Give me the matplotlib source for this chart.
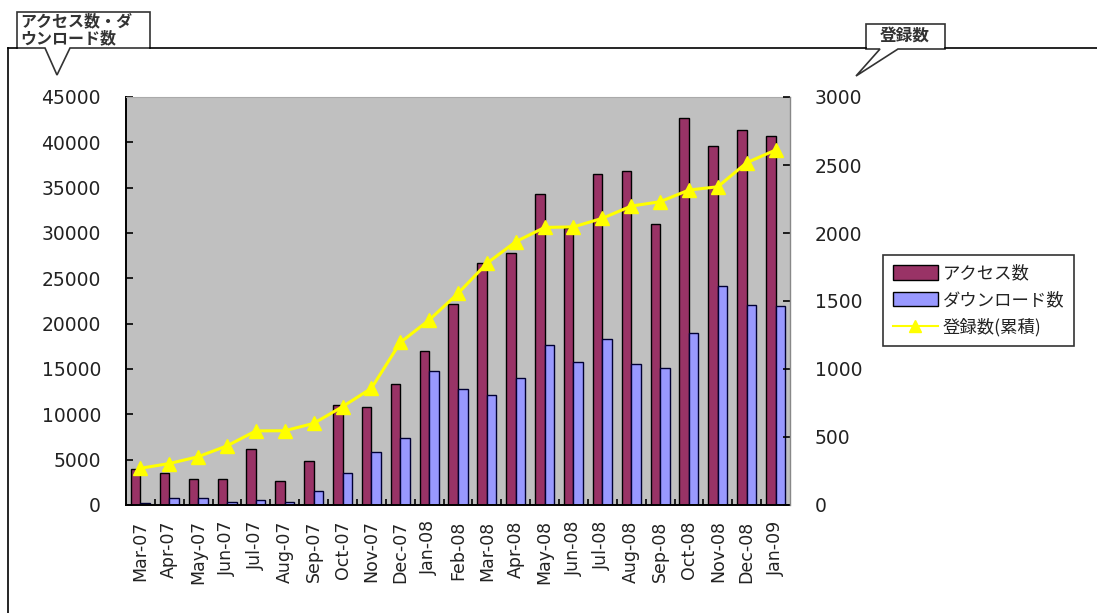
import matplotlib
matplotlib.use('Agg')
import matplotlib.pyplot as plt
from matplotlib.lines import Line2D
from matplotlib.patches import Polygon, Patch
import numpy as np

plt.rcParams['font.family'] = ['Noto Sans CJK JP', 'DejaVu Sans']

months = ['Mar-07', 'Apr-07', 'May-07', 'Jun-07', 'Jul-07', 'Aug-07', 'Sep-07',
          'Oct-07', 'Nov-07', 'Dec-07', 'Jan-08', 'Feb-08', 'Mar-08', 'Apr-08',
          'May-08', 'Jun-08', 'Jul-08', 'Aug-08', 'Sep-08', 'Oct-08', 'Nov-08',
          'Dec-08', 'Jan-09']
access = [4000, 3500, 2900, 2900, 6200, 2650, 4900, 11000, 10800, 13300, 17000,
          22200, 26700, 27800, 34300, 30500, 36500, 36800, 31000, 42700, 39600,
          41400, 40700]
downloads = [200, 800, 800, 300, 600, 300, 1500, 3500, 5800, 7400, 14800,
             12800, 12100, 14000, 17600, 15800, 18300, 15500, 15100, 19000,
             24200, 22100, 21900]
registered = [270, 305, 355, 435, 545, 546, 600, 723, 858, 1195, 1360, 1556,
              1777, 1936, 2041, 2045, 2108, 2198, 2230, 2316, 2340, 2517, 2610]

MAROON = '#993366'
BLUE = '#9999ff'
YELLOW = '#ffff00'
PLOT_BG = '#c0c0c0'
TXT = '#222222'
NUMFONT = ['DejaVu Sans']

W, H = 1097, 613
fig = plt.figure(figsize=(W / 100, H / 100), dpi=100)
ax = fig.add_axes([126 / W, 1 - 505 / H, (790 - 126) / W, (505 - 97) / H])
ax.set_facecolor(PLOT_BG)

x = np.arange(len(months))
bw = 0.33
ax.bar(x - bw / 2, access, width=bw, color=MAROON, edgecolor='black', linewidth=1.0, zorder=2)
ax.bar(x + bw / 2, downloads, width=bw, color=BLUE, edgecolor='#000033', linewidth=1.0, zorder=2)
ax.set_xlim(-0.5, len(months) - 0.5)
ax.set_ylim(0, 45000)
ax.set_yticks(range(0, 45001, 5000))
ax.set_xticks(x)
ax.set_xticklabels(months, rotation=90, fontsize=12.5, family=NUMFONT, color=TXT)
ax.set_xticks(x[:-1] + 0.5, minor=True)
ax.tick_params(axis='x', which='major', length=0, pad=11)
ax.tick_params(axis='x', which='minor', length=4, direction='in', width=1.2)
ax.tick_params(axis='y', length=5, direction='in', width=1.2, labelsize=13.5, pad=18,
               labelcolor=TXT)
for lab in ax.get_yticklabels():
    lab.set_family(NUMFONT)
for s in ['left', 'bottom']:
    ax.spines[s].set_linewidth(1.4)
ax.spines['right'].set_visible(False)
ax.spines['top'].set_color('#aaaaaa')
ax.spines['top'].set_linewidth(0.8)

ax2 = ax.twinx()
ax2.plot(x, registered, color=YELLOW, linewidth=2.2, marker='^', markersize=10,
         markerfacecolor=YELLOW, markeredgecolor=YELLOW, zorder=3)
ax2.set_ylim(0, 3000)
ax2.set_yticks(range(0, 3001, 500))
ax2.tick_params(axis='y', length=5, direction='in', width=1.2, labelsize=13.5, pad=18,
                labelcolor=TXT)
for lab in ax2.get_yticklabels():
    lab.set_family(NUMFONT)
for s in ['top', 'left', 'bottom']:
    ax2.spines[s].set_visible(False)
ax2.spines['right'].set_color('#888888')
ax2.spines['right'].set_linewidth(1.0)

handles = [Patch(facecolor=MAROON, edgecolor='black', label='アクセス数'),
           Patch(facecolor=BLUE, edgecolor='black', label='ダウンロード数'),
           Line2D([0], [0], color=YELLOW, marker='^', markersize=8, linewidth=1.5,
                  markeredgecolor=YELLOW, label='登録数(累積)')]
leg = fig.legend(handles=handles, loc='upper left', bbox_to_anchor=(883 / W, 1 - 255 / H),
                 fontsize=12.5, frameon=True, fancybox=False, edgecolor='black',
                 handlelength=2.6, handleheight=0.9, handletextpad=0.3, borderpad=0.55,
                 labelspacing=0.5, borderaxespad=0)
leg.get_frame().set_linewidth(1.2)
for t in leg.get_texts():
    t.set_color(TXT)


def fx(px):
    return px / W


def fy(py):
    return 1 - py / H


# outer frame lines
fig.add_artist(Line2D([fx(8), fx(8)], [fy(48), fy(613)], color='black', linewidth=1.2))
fig.add_artist(Line2D([fx(8), fx(17)], [fy(48), fy(48)], color='black', linewidth=1.2))
fig.add_artist(Line2D([fx(150), fx(866)], [fy(48), fy(48)], color='black', linewidth=1.2))
fig.add_artist(Line2D([fx(945), fx(1097)], [fy(48), fy(48)], color='black', linewidth=1.2))

# callout boxes
c1 = [(17, 12), (150, 12), (150, 48), (70, 48), (57, 75), (45, 48), (17, 48)]
fig.add_artist(Polygon([(fx(a), fy(b)) for a, b in c1], closed=True, facecolor='white',
                       edgecolor='#333333', linewidth=1.2))
fig.text(fx(20), fy(30), 'アクセス数・ダ\nウンロード数', fontsize=11.5, va='center', ha='left',
         color='#333333', linespacing=1.05, fontweight='bold')
c2 = [(866, 24), (945, 24), (945, 49), (898, 49), (856, 76), (880, 49), (866, 49)]
fig.add_artist(Polygon([(fx(a), fy(b)) for a, b in c2], closed=True, facecolor='white',
                       edgecolor='#333333', linewidth=1.2))
fig.text(fx(905), fy(36), '登録数', fontsize=12, va='center', ha='center', color='#333333',
         fontweight='bold')

fig.savefig('out.png', dpi=100)
